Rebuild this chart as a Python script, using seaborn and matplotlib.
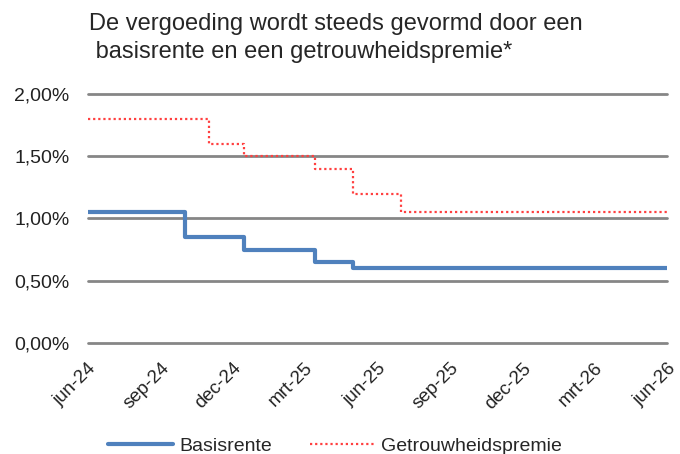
import pandas as pd
import matplotlib.pyplot as plt
import seaborn as sns

# data (step changes)
basis_dates = ["2024-06-01", "2024-10-01", "2024-12-15", "2025-03-15", "2025-05-01", "2026-06-01"]
basis_values = [1.05, 0.85, 0.75, 0.65, 0.60, 0.60]

premie_dates = ["2024-06-01", "2024-11-01", "2024-12-15", "2025-03-15", "2025-05-01", "2025-07-01", "2026-06-01"]
premie_values = [1.80, 1.60, 1.50, 1.40, 1.20, 1.05, 1.05]

tick_dates = ["2024-06-01", "2024-09-01", "2024-12-01", "2025-03-01", "2025-06-01",
              "2025-09-01", "2025-12-01", "2026-03-01", "2026-06-01"]
tick_labels = ["jun-24", "sep-24", "dec-24", "mrt-25", "jun-25", "sep-25", "dec-25", "mrt-26", "jun-26"]

y_ticks = [0.0, 0.5, 1.0, 1.5, 2.0]
y_labels = ["0,00%", "0,50%", "1,00%", "1,50%", "2,00%"]

title = "De vergoeding wordt steeds gevormd door een\n basisrente en een getrouwheidspremie*"

df_basis = pd.DataFrame({"datum": pd.to_datetime(basis_dates), "waarde": basis_values})
df_premie = pd.DataFrame({"datum": pd.to_datetime(premie_dates), "waarde": premie_values})

sns.set_style("white")
plt.rcParams["font.family"] = ["Liberation Sans", "DejaVu Sans"]

fig = plt.figure(figsize=(6.8, 4.54), dpi=100)
ax = fig.add_axes([0.129, 0.2445, 0.852, 0.5485])

sns.lineplot(data=df_basis, x="datum", y="waarde", ax=ax, color="#4F81BD",
             linewidth=3, drawstyle="steps-post", label="Basisrente", zorder=3)
sns.lineplot(data=df_premie, x="datum", y="waarde", ax=ax, color="#FF4040",
             linewidth=1.6, linestyle=(0, (1, 1.3)), drawstyle="steps-post",
             label="Getrouwheidspremie", zorder=3)

ax.set_xlim(pd.Timestamp(tick_dates[0]), pd.Timestamp(tick_dates[-1]))
ax.set_ylim(0, 2.0)
ax.set_yticks(y_ticks)
ax.set_yticklabels(y_labels, fontsize=14, color="#222222")
ax.set_xticks(pd.to_datetime(tick_dates))
ax.set_xticklabels(tick_labels, rotation=45, ha="right", rotation_mode="anchor",
                   fontsize=13.5, color="#222222")
ax.tick_params(axis="x", pad=12, length=0)
ax.tick_params(axis="y", pad=13, length=0)
ax.set_xlabel("")
ax.set_ylabel("")

for y in y_ticks:
    ax.axhline(y, color="#868686", linewidth=2, zorder=1, clip_on=False)
for s in ax.spines.values():
    s.set_visible(False)

fig.text(0.131, 0.972, title, fontsize=17, ha="left", va="top", linespacing=1.38)

ax.legend(loc="center", bbox_to_anchor=(0.427, -0.415), ncol=2, frameon=False,
          fontsize=14, handlelength=3.35, columnspacing=1.9, handletextpad=0.35,
          borderpad=0, borderaxespad=0)

fig.savefig("out.png", dpi=100)
